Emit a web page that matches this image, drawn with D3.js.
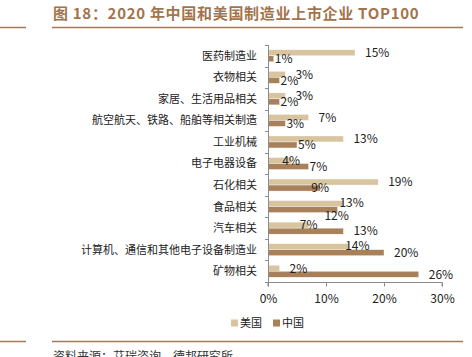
<!DOCTYPE html>
<html><head><meta charset="utf-8">
<script src="https://cdn.jsdelivr.net/npm/d3@7/dist/d3.min.js"></script>
<style>
body{margin:0;background:#fff;}
svg{display:block;font-family:"Noto Sans CJK SC","Microsoft YaHei",sans-serif;}
</style></head><body>
<svg id="c" width="472" height="357"></svg>
<script>
const categories = ["医药制造业","衣物相关","家居、生活用品相关","航空航天、铁路、船舶等相关制造","工业机械","电子电器设备","石化相关","食品相关","汽车相关","计算机、通信和其他电子设备制造业","矿物相关"];
const usValues = [15,3,3,7,13,4,19,13,7,14,2];
const cnValues = [1,2,2,3,5,7,9,12,13,20,26];
const usLabelMode = ["out","out","out","out","out","mid","out","over","mid","over","out"];
const cnLabelMode = ["start","start","start","start","start","start","mid","below","out","out","out"];
const xTicks = [0,10,20,30];
const seriesNames = ["美国","中国"];
const colors = {"美国":"#d8c49e","中国":"#a8815b"};
const title = "图 18：2020 年中国和美国制造业上市企业 TOP100";
const source = "资料来源：艾瑞咨询，德邦研究所";

const svg = d3.select("#c");
const brown = "#a57a57";

// title
svg.append("text").attr("x",53).attr("y",19).attr("font-size",15).attr("font-weight","bold")
  .attr("letter-spacing",0.7).attr("fill","#a3744c").text(title);
svg.append("line").attr("x1",52).attr("x2",463).attr("y1",27.5).attr("y2",27.5).attr("stroke",brown).attr("stroke-width",1.5);
svg.append("line").attr("x1",0).attr("x2",26).attr("y1",27.5).attr("y2",27.5).attr("stroke",brown).attr("stroke-width",1.5);

const x = d3.scaleLinear().domain([0,30]).range([268,442]);
const y = d3.scaleBand().domain(categories).range([45,282]).paddingInner(0).paddingOuter(0);
const ys = d3.scaleBand().domain(seriesNames).range([0,y.bandwidth()]).paddingInner(0).paddingOuter(0.79);

const data = categories.map((c,i)=>({c, us:usValues[i], cn:cnValues[i], um:usLabelMode[i], cm:cnLabelMode[i]}));

const g = svg.append("g");
data.forEach(d=>{
  [["美国",d.us,d.um],["中国",d.cn,d.cm]].forEach(([s,v,m])=>{
    const yy = y(d.c)+ys(s);
    g.append("rect").attr("x",x(0)).attr("y",yy).attr("width",x(v)-x(0)).attr("height",ys.bandwidth())
      .attr("fill",colors[s]).attr("stroke","#fff").attr("stroke-width",0.4);
  });
});
data.forEach(d=>{
  [["美国",d.us,d.um],["中国",d.cn,d.cm]].forEach(([s,v,m])=>{
    const yy = y(d.c)+ys(s);
    let lx, anchor="start", ly=yy+ys.bandwidth()/2;
    if(m==="out"){lx=x(v)+10;}
    else if(m==="start"){lx=x(v)+1;}
    else if(m==="over"){lx=x(v)-4;ly-=1;}
    else if(m==="below"){lx=x(v)-1;anchor="middle";ly+=6;}
    else {lx=x(v);anchor="middle";}
    g.append("text").attr("x",lx).attr("y",ly).attr("dy","0.36em")
      .attr("text-anchor",anchor).attr("font-size",12).attr("fill","#222").text(v+"%");
  });
});

// y axis
const axisColor="#8c8c8c";
svg.append("line").attr("x1",268.5).attr("x2",268.5).attr("y1",45).attr("y2",282).attr("stroke",axisColor);
const bounds = categories.map(c=>y(c)).concat([y.range()[1]]);
bounds.forEach(b=>{
  svg.append("line").attr("x1",265).attr("x2",268.5).attr("y1",Math.round(b)+0.5).attr("y2",Math.round(b)+0.5).attr("stroke",axisColor);
});
categories.forEach(c=>{
  svg.append("text").attr("x",257).attr("y",y(c)+y.bandwidth()/2).attr("dy","0.36em")
    .attr("text-anchor","end").attr("font-size",11).attr("fill","#222").text(c);
});

// x axis
const xa = svg.append("g").attr("transform","translate(0,282.5)")
  .call(d3.axisBottom(x).tickValues(xTicks).tickSize(4).tickPadding(8).tickFormat(d=>d+"%"));
xa.select(".domain").attr("stroke",axisColor).attr("d","M268,4V0H442V4");
xa.selectAll(".tick line").attr("stroke",axisColor);
xa.selectAll("text").attr("font-size",12).attr("fill","#222").attr("font-family","'Noto Sans CJK SC',sans-serif");

// legend
const leg = svg.append("g").attr("transform","translate(231,323)");
seriesNames.forEach((s,i)=>{
  const gg = leg.append("g").attr("transform",`translate(${i*42},0)`);
  gg.append("rect").attr("x",0).attr("y",-3.5).attr("width",7).attr("height",7).attr("fill",colors[s]);
  gg.append("text").attr("x",9).attr("y",0).attr("dy","0.36em").attr("font-size",11).attr("fill","#222").text(s);
});

// bottom
svg.append("line").attr("x1",52).attr("x2",463).attr("y1",341.5).attr("y2",341.5).attr("stroke",brown).attr("stroke-width",1.5);
svg.append("line").attr("x1",0).attr("x2",26).attr("y1",341.5).attr("y2",341.5).attr("stroke",brown).attr("stroke-width",1.5);
svg.append("text").attr("x",53).attr("y",361).attr("font-size",12).attr("fill","#333").text(source);
</script>
</body></html>
